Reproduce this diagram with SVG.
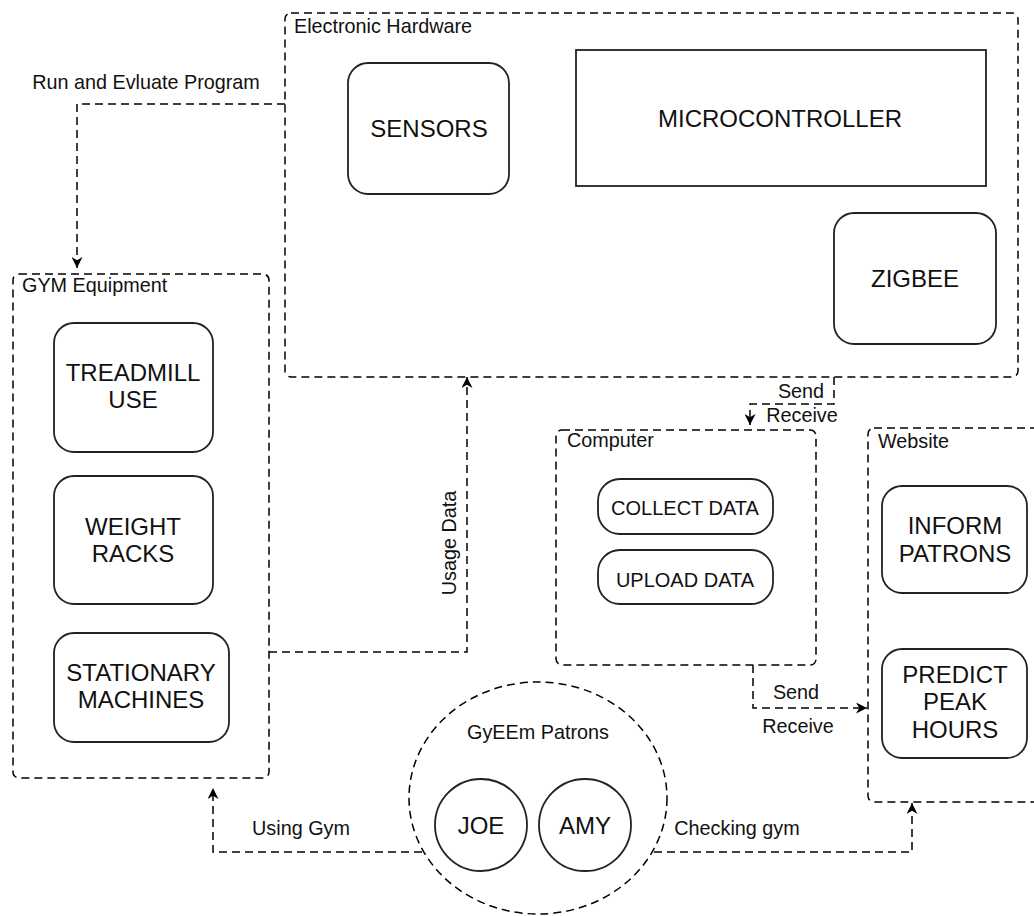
<svg xmlns="http://www.w3.org/2000/svg" width="1034" height="916" viewBox="0 0 1034 916">
<defs>
<style>
.cont{fill:none;stroke:#000;stroke-width:1.5;stroke-dasharray:8 5}
.node{fill:#fff;stroke:#222;stroke-width:1.8}
.edge{fill:none;stroke:#000;stroke-width:1.5;stroke-dasharray:8 5}
.lbl{font-family:"Liberation Sans",Arial,sans-serif;font-size:19.8px;fill:#111}
.big{font-family:"Liberation Sans",Arial,sans-serif;font-size:24px;fill:#111;text-anchor:middle}
.mid{font-family:"Liberation Sans",Arial,sans-serif;font-size:20px;fill:#111;text-anchor:middle}
.c{text-anchor:middle}
</style>
<marker id="arr" viewBox="0 0 10 10" refX="10" refY="5" markerWidth="11" markerHeight="11" markerUnits="userSpaceOnUse" orient="auto">
<path d="M0,0 L10,5 L0,10 L3,5 Z" fill="#000"/>
</marker>
</defs>
<rect width="1034" height="916" fill="#fff"/>

<g id="electronic-hardware">
<rect class="cont" x="285" y="13" width="733" height="364" rx="6"/>
<text class="lbl" x="294" y="33">Electronic Hardware</text>
</g>
<g id="sensors">
<rect class="node" x="348" y="63" width="161" height="131" rx="20"/>
<text class="big" x="429" y="137">SENSORS</text>
</g>
<g id="microcontroller">
<rect class="node" x="576" y="50" width="410" height="136" rx="0"/>
<text class="big" x="780" y="127">MICROCONTROLLER</text>
</g>
<g id="zigbee">
<rect class="node" x="834" y="213" width="162" height="131" rx="20"/>
<text class="big" x="915" y="287">ZIGBEE</text>
</g>

<g id="gym-equipment">
<rect class="cont" x="13" y="274" width="256" height="504" rx="6"/>
<text class="lbl" x="22" y="292">GYM Equipment</text>
</g>
<g id="treadmill">
<rect class="node" x="54" y="323" width="159" height="129" rx="20"/>
<text class="big" x="133" y="381">TREADMILL</text>
<text class="big" x="133" y="408">USE</text>
</g>
<g id="weight-racks">
<rect class="node" x="54" y="476" width="159" height="128" rx="20"/>
<text class="big" x="133" y="535">WEIGHT</text>
<text class="big" x="133" y="562">RACKS</text>
</g>
<g id="stationary">
<rect class="node" x="54" y="633" width="175" height="109" rx="20"/>
<text class="big" x="141" y="681">STATIONARY</text>
<text class="big" x="141" y="708">MACHINES</text>
</g>

<g id="computer">
<rect class="cont" x="556" y="430" width="260" height="235" rx="6"/>
<text class="lbl" x="567" y="447">Computer</text>
</g>
<g id="collect-data">
<rect class="node" x="598" y="479" width="175" height="55" rx="22"/>
<text class="mid" x="685" y="515">COLLECT DATA</text>
</g>
<g id="upload-data">
<rect class="node" x="598" y="550" width="175" height="54" rx="22"/>
<text class="mid" x="685" y="587">UPLOAD DATA</text>
</g>

<g id="website">
<rect class="cont" x="868" y="428" width="190" height="374" rx="6"/>
<text class="lbl" x="878" y="448">Website</text>
</g>
<g id="inform-patrons">
<rect class="node" x="882" y="486" width="145" height="107" rx="20"/>
<text class="big" x="955" y="534">INFORM</text>
<text class="big" x="955" y="562">PATRONS</text>
</g>
<g id="predict-peak">
<rect class="node" x="882" y="649" width="145" height="109" rx="20"/>
<text class="big" x="955" y="683">PREDICT</text>
<text class="big" x="955" y="710">PEAK</text>
<text class="big" x="955" y="738">HOURS</text>
</g>

<g id="patrons">
<ellipse class="cont" cx="538" cy="798" rx="129" ry="116"/>
<text class="lbl c" x="538" y="739">GyEEm Patrons</text>
</g>
<g id="joe">
<circle class="node" cx="481" cy="825" r="46"/>
<text class="big" x="481" y="834">JOE</text>
</g>
<g id="amy">
<circle class="node" cx="585" cy="825" r="46"/>
<text class="big" x="585" y="834">AMY</text>
</g>

<g id="connectors">
<path class="edge" d="M285,104 H77 V268" marker-end="url(#arr)"/>
<text class="lbl c" x="146" y="89">Run and Evluate Program</text>
<path class="edge" d="M269,652 H467 V377" marker-end="url(#arr)"/>
<text class="lbl c" transform="translate(456,543) rotate(-90)">Usage Data</text>
<path class="edge" d="M834,377 V404 H750 V425" marker-end="url(#arr)"/>
<text class="lbl c" x="801" y="398">Send</text>
<text class="lbl c" x="802" y="422">Receive</text>
<path class="edge" d="M753,665 V708 H867" marker-end="url(#arr)"/>
<text class="lbl c" x="796" y="699">Send</text>
<text class="lbl c" x="798" y="733">Receive</text>
<path class="edge" d="M422,852 H213 V788" marker-end="url(#arr)"/>
<text class="lbl c" x="301" y="835">Using Gym</text>
<path class="edge" d="M654,852 H912 V803" marker-end="url(#arr)"/>
<text class="lbl c" x="737" y="835">Checking gym</text>
</g>
</svg>
